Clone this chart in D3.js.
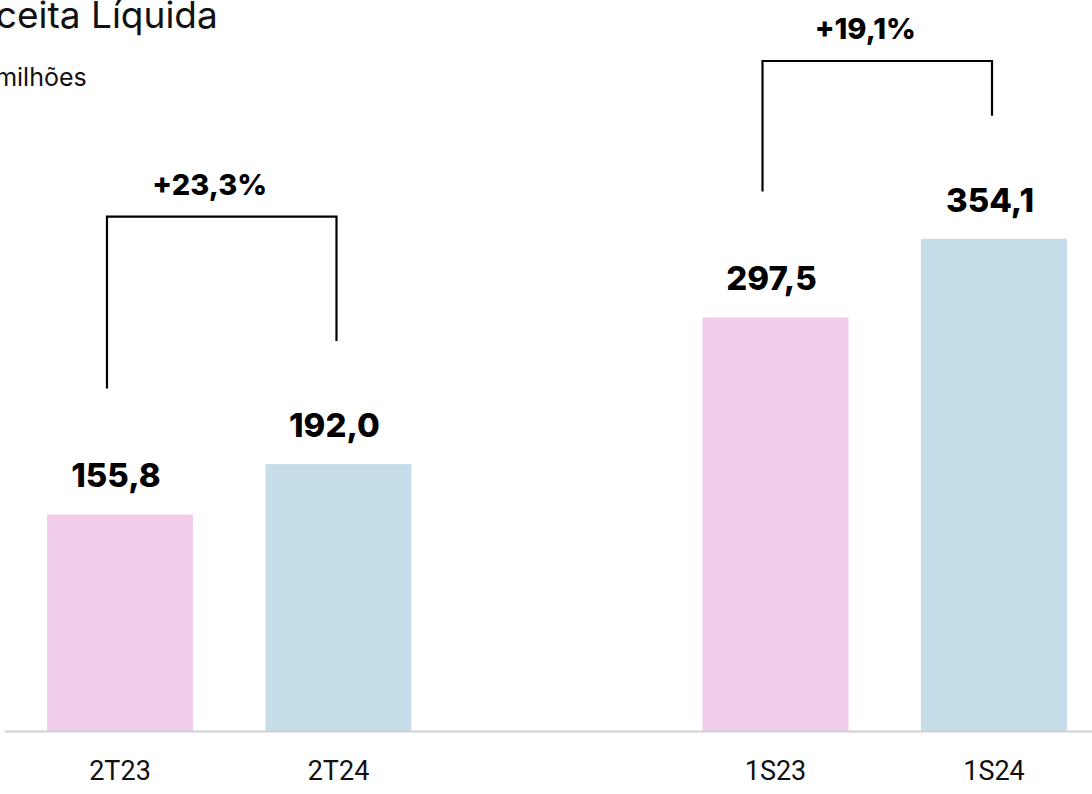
<!DOCTYPE html>
<html>
<head>
<meta charset="utf-8">
<script src="https://cdn.jsdelivr.net/npm/d3@7"></script>
<style>
  html, body { margin: 0; padding: 0; background: #fff; }
  svg { display: block; font-family: "Inter", "Roboto", sans-serif; }
</style>
</head>
<body>
<div id="chart"></div>
<script>
var width = 1092
var height = 794

// data
var categories = ["2T23", "2T24", "gap", "1S23", "1S24"]
var periods = ["2T23", "2T24", "1S23", "1S24"]
var values = [155.8, 192.0, 297.5, 354.1]
var valueLabels = ["155,8", "192,0", "297,5", "354,1"]
var barColors = ["#f1cdec", "#c5dce9", "#f1cdec", "#c5dce9"]

// growth brackets: from bar, to bar, label, level of the top line (in R$ mi)
var growthFrom = ["2T23", "1S23"]
var growthTo = ["2T24", "1S24"]
var growthLabels = ["+23,3%", "+19,1%"]
var growthLevel = [370, 482]

var baseY = 731

var svg = d3.select('#chart')
    .append('svg')
    .attr('width', width)
    .attr('height', height)

var x = d3.scaleBand()
    .domain(categories)
    .range([47, 1067])
    .paddingInner(0.332)
    .paddingOuter(0)

var y = d3.scaleLinear()
    .domain([0, 500])
    .range([baseY, baseY - 695])

// title (cropped at the left edge like the original slide)
svg.append('text')
    .attr('x', -49)
    .attr('y', 28)
    .attr('font-size', 37)
    .attr('fill', '#111')
    .text('Receita Líquida')

svg.append('text')
    .attr('x', -44)
    .attr('y', 86)
    .attr('font-size', 25)
    .attr('fill', '#111')
    .text('R$ milhões')

var data = periods.map(function (p, i) {
    return { period: p, value: values[i], label: valueLabels[i], color: barColors[i] }
})

// bars
svg.selectAll('rect.bar')
    .data(data)
    .enter()
    .append('rect')
    .attr('class', 'bar')
    .attr('x', function (d) { return x(d.period) })
    .attr('y', function (d) { return y(d.value) })
    .attr('width', x.bandwidth())
    .attr('height', function (d) { return y(0) - y(d.value) })
    .attr('fill', function (d) { return d.color })

// value labels
svg.selectAll('text.value')
    .data(data)
    .enter()
    .append('text')
    .attr('class', 'value')
    .attr('x', function (d) { return x(d.period) + x.bandwidth() / 2 - 4 })
    .attr('y', function (d) { return y(d.value) - 27 })
    .attr('text-anchor', 'middle')
    .attr('font-size', 33)
    .attr('font-weight', 800)
    .attr('fill', '#000')
    .text(function (d) { return d.label })

// baseline
svg.append('line')
    .attr('x1', 5)
    .attr('x2', width)
    .attr('y1', baseY + 0.5)
    .attr('y2', baseY + 0.5)
    .attr('stroke', '#cfcfcf')
    .attr('stroke-width', 2)

// x axis labels
var xAxis = d3.axisBottom(x)
    .tickValues(periods)
    .tickSize(0)
    .tickPadding(0)

var gx = svg.append('g')
    .attr('transform', 'translate(0,' + (baseY + 30) + ')')
    .call(xAxis)
gx.select('.domain').remove()
gx.selectAll('text')
    .attr('font-size', 27)
    .attr('font-family', '"Roboto", "Inter", sans-serif')
    .attr('fill', '#111')
    .attr('dy', '0.71em')

// growth brackets
var valueOf = function (p) { return values[periods.indexOf(p)] }
growthFrom.forEach(function (from, i) {
    var to = growthTo[i]
    var x1 = x(from) + x.bandwidth() / 2 - 13
    var x2 = x(to) + x.bandwidth() / 2 - 2
    var top = y(growthLevel[i])
    var leg1 = y(valueOf(from)) - 126
    var leg2 = y(valueOf(to)) - 123
    svg.append('path')
        .attr('d', 'M' + x1 + ',' + leg1 + 'V' + top + 'H' + x2 + 'V' + leg2)
        .attr('fill', 'none')
        .attr('stroke', '#000')
        .attr('stroke-width', 2.2)
    svg.append('text')
        .attr('x', (x1 + x2) / 2 - 12)
        .attr('y', top - 22)
        .attr('text-anchor', 'middle')
        .attr('font-size', 29)
        .attr('font-weight', 800)
        .attr('fill', '#000')
        .text(growthLabels[i])
})
</script>
</body>
</html>
